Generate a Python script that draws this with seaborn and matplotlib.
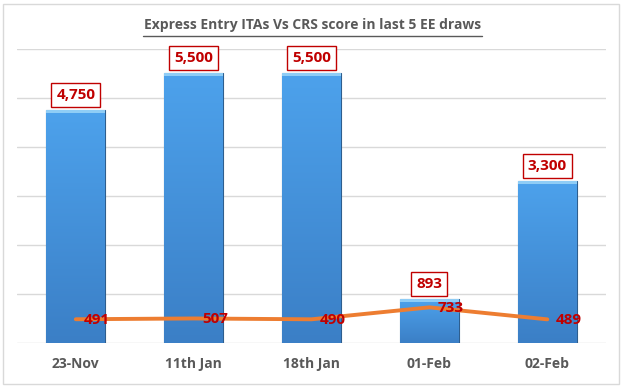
import matplotlib
matplotlib.use("Agg")
import matplotlib.pyplot as plt
import seaborn as sns
import numpy as np
import pandas as pd
from matplotlib.patches import Rectangle
from matplotlib.colors import LinearSegmentedColormap

draws = ["23-Nov", "11th Jan", "18th Jan", "01-Feb", "02-Feb"]
itas = [4750, 5500, 5500, 893, 3300]
crs = [491, 507, 490, 733, 489]

df = pd.DataFrame({"draw": draws, "itas": itas, "crs": crs})

sns.set_theme(style="white")
plt.rcParams["font.family"] = ["Open Sans", "DejaVu Sans"]

fig = plt.figure(figsize=(6.25, 3.88), dpi=100)
ax = fig.add_axes([0.027, 0.115, 0.943, 0.76])

sns.barplot(data=df, x="draw", y="itas", color="#4A9BE3", width=0.5,
            saturation=1, ax=ax, zorder=2)

grad = np.linspace(0, 1, 256).reshape(-1, 1)
cmap = LinearSegmentedColormap.from_list("b", ["#3B7FC6", "#4DA2EC"])
for p in list(ax.patches):
    x0, y0 = p.get_x(), p.get_y()
    w, h = p.get_width(), p.get_height()
    p.set_edgecolor("#2E5E8E")
    p.set_linewidth(0.8)
    im = ax.imshow(grad, extent=[x0, x0 + w, y0, y0 + h], origin="lower",
                   cmap=cmap, aspect="auto", zorder=2.5)
    im.set_clip_path(p)
    r = Rectangle((x0, y0 + h - 55), w, 55, facecolor="#8FCDF6",
                  edgecolor="none", zorder=2.6)
    ax.add_patch(r)
    r.set_clip_path(p)

xs = np.arange(len(draws))
ax.plot(xs, crs, color="#ED7D31", linewidth=2.8, zorder=3, solid_capstyle="round")

for x, v in zip(xs, itas):
    ax.text(x, v + 170, f"{v:,}", ha="center", va="bottom", color="#C00000",
            fontsize=11, fontweight="bold", zorder=5,
            bbox=dict(boxstyle="square,pad=0.33", facecolor="white",
                      edgecolor="#C00000", linewidth=1))

for x, v in zip(xs, crs):
    ax.text(x + 0.07, v - 20, f"{v}", ha="left", va="center", color="#C00000",
            fontsize=11, fontweight="bold", zorder=5)

ax.set_ylim(0, 6000)
ax.set_yticks(np.arange(0, 6001, 1000))
ax.set_xlim(-0.5, 4.5)
ax.yaxis.grid(True, color="#D9D9D9", linewidth=1)
ax.set_axisbelow(True)
ax.set_yticklabels([])
ax.tick_params(axis="y", length=0)
ax.tick_params(axis="x", length=0, pad=10)
for lbl in ax.get_xticklabels():
    lbl.set_fontweight("bold")
    lbl.set_color("#595959")
    lbl.set_fontsize(10)
ax.set_xlabel("")
ax.set_ylabel("")
for s in ax.spines.values():
    s.set_visible(False)

fig.text(0.5, 0.935, "Express Entry ITAs Vs CRS score in last 5 EE draws",
         ha="center", va="center", color="#595959", fontsize=10,
         fontweight="bold")
fig.add_artist(plt.Line2D([0.2285, 0.7715], [0.908, 0.908], color="#595959",
                          linewidth=1, transform=fig.transFigure))
fig.add_artist(Rectangle((0.005, 0.01), 0.985, 0.98, transform=fig.transFigure,
                         facecolor="none", edgecolor="#D9D9D9", linewidth=1))

fig.savefig("out.png", dpi=100)
